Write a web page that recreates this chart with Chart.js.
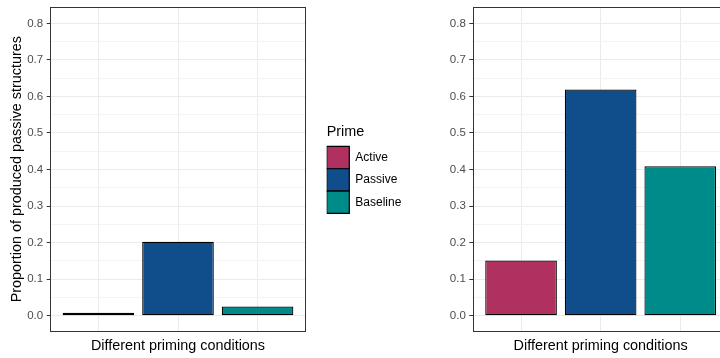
<!DOCTYPE html>
<html>
<head>
<meta charset="utf-8">
<script src="https://cdn.jsdelivr.net/npm/chart.js@4.4.1/dist/chart.umd.min.js"></script>
<style>
  html, body { margin: 0; padding: 0; background: #fff; overflow: hidden; }
  #wrap { position: relative; width: 720px; height: 358px; overflow: hidden; }
  #leftChart { position: absolute; left: 0; top: 0; }
  #rightChart { position: absolute; left: 320px; top: 0; }
</style>
</head>
<body>
<div id="wrap">
  <canvas id="leftChart" width="312" height="358"></canvas>
  <canvas id="rightChart" width="410" height="358"></canvas>
</div>
<script>
const primes = ['Active', 'Passive', 'Baseline'];
const primeColors = ['#b03060', '#104e8b', '#008b8b'];
const xPositions = [0, 1, 2];
const leftValues = [0.008, 0.202, 0.025];
const rightValues = [0.151, 0.619, 0.409];
const yMajorTicks = [0, 0.1, 0.2, 0.3, 0.4, 0.5, 0.6, 0.7, 0.8];
const yMinorTicks = [0.05, 0.15, 0.25, 0.35, 0.45, 0.55, 0.65, 0.75];
const yTickLabels = ['0.0', '0.1', '0.2', '0.3', '0.4', '0.5', '0.6', '0.7', '0.8'];
const yMin = -0.042;
const yMax = 0.844;
const xTitle = 'Different priming conditions';
const yTitle = 'Proportion of produced passive structures';
const legendTitle = 'Prime';

Chart.defaults.font.family = '"Liberation Sans", Arial, sans-serif';
Chart.defaults.animation = false;

// ggplot style panel border on all four sides
const panelBorder = {
  id: 'panelBorder',
  afterDraw(chart) {
    const { ctx, chartArea: a } = chart;
    ctx.save();
    ctx.strokeStyle = '#333333';
    ctx.lineWidth = 1;
    const l = Math.floor(a.left) + 0.5;
    const t = Math.floor(a.top) + 0.5;
    const r = Math.floor(a.right) + 0.5;
    const b = Math.floor(a.bottom) + 0.5;
    ctx.strokeRect(l, t, r - l, b - t);
    ctx.restore();
  }
};

function isMajor(v) {
  return yMajorTicks.some(t => Math.abs(t - v) < 1e-9);
}

function makeDatasets(values) {
  return primes.map((p, i) => ({
    label: p,
    data: [{ x: xPositions[i], y: values[i] }],
    backgroundColor: primeColors[i],
    borderColor: '#000000',
    borderWidth: 1.2,
    borderSkipped: false,
    grouped: false,
    categoryPercentage: 1,
    barPercentage: 0.9
  }));
}

function scaleOptions(showYTitle, yWidth) {
  return {
    x: {
      type: 'linear',
      min: -0.6,
      max: 2.6,
      offset: false,
      afterBuildTicks: s => { s.ticks = xPositions.map(v => ({ value: v })); },
      afterFit: s => { s.height = 27; },
      ticks: { display: false },
      grid: { color: '#ebebeb', drawTicks: false, offset: false },
      border: { display: false },
      title: {
        display: true,
        text: xTitle,
        color: '#000000',
        font: { size: 14.4 },
        padding: { top: 0, bottom: 3.4 }
      }
    },
    y: {
      type: 'linear',
      min: yMin,
      max: yMax,
      afterBuildTicks: s => {
        s.ticks = yMajorTicks.concat(yMinorTicks).sort((a, b) => a - b).map(v => ({ value: v }));
      },
      afterFit: s => {
        s.width = yWidth(s);
        // labels sit inside the range, no extra room needed above or below
        s.paddingTop = 0;
        s.paddingBottom = 0;
      },
      ticks: {
        autoSkip: false,
        color: '#4d4d4d',
        font: { size: 11.5 },
        padding: 3.5,
        callback: v => {
          const idx = yMajorTicks.findIndex(t => Math.abs(t - v) < 1e-9);
          return idx >= 0 ? yTickLabels[idx] : '';
        }
      },
      grid: {
        color: ctx => isMajor(ctx.tick.value) ? '#ebebeb' : '#f4f4f4',
        tickColor: ctx => isMajor(ctx.tick.value) ? '#333333' : 'rgba(0,0,0,0)',
        tickLength: 4
      },
      border: { display: false },
      title: {
        display: showYTitle,
        text: yTitle,
        color: '#000000',
        font: { size: 14.4 },
        padding: { top: 8.7, bottom: 0 }
      }
    }
  };
}

new Chart(document.getElementById('leftChart').getContext('2d'), {
  type: 'bar',
  data: { datasets: makeDatasets(leftValues) },
  options: {
    responsive: false,
    layout: { padding: { top: 7.3, left: 0, right: 6.7, bottom: 0 } },
    plugins: { legend: { display: false }, tooltip: { enabled: false } },
    scales: scaleOptions(true, s => 50.7)
  },
  plugins: [panelBorder]
});

new Chart(document.getElementById('rightChart').getContext('2d'), {
  type: 'bar',
  data: { datasets: makeDatasets(rightValues) },
  options: {
    responsive: false,
    layout: { padding: { top: 7.3, left: 6.7, right: 2, bottom: 0 } },
    plugins: {
      tooltip: { enabled: false },
      legend: {
        position: 'left',
        align: 'center',
        fullSize: false,
        title: {
          display: true,
          text: legendTitle,
          position: 'start',
          color: '#000000',
          font: { size: 14.4 },
          padding: { top: 0, bottom: 4.2 }
        },
        labels: {
          boxWidth: 22.6,
          boxHeight: 22.3,
          padding: 0,
          color: '#000000',
          font: { size: 12 }
        }
      }
    },
    scales: scaleOptions(false, s => {
      const lw = (s.chart.legend && s.chart.legend.width) || 75;
      return 153.3 - 6.7 - lw;
    })
  },
  plugins: [panelBorder]
});
</script>
</body>
</html>
